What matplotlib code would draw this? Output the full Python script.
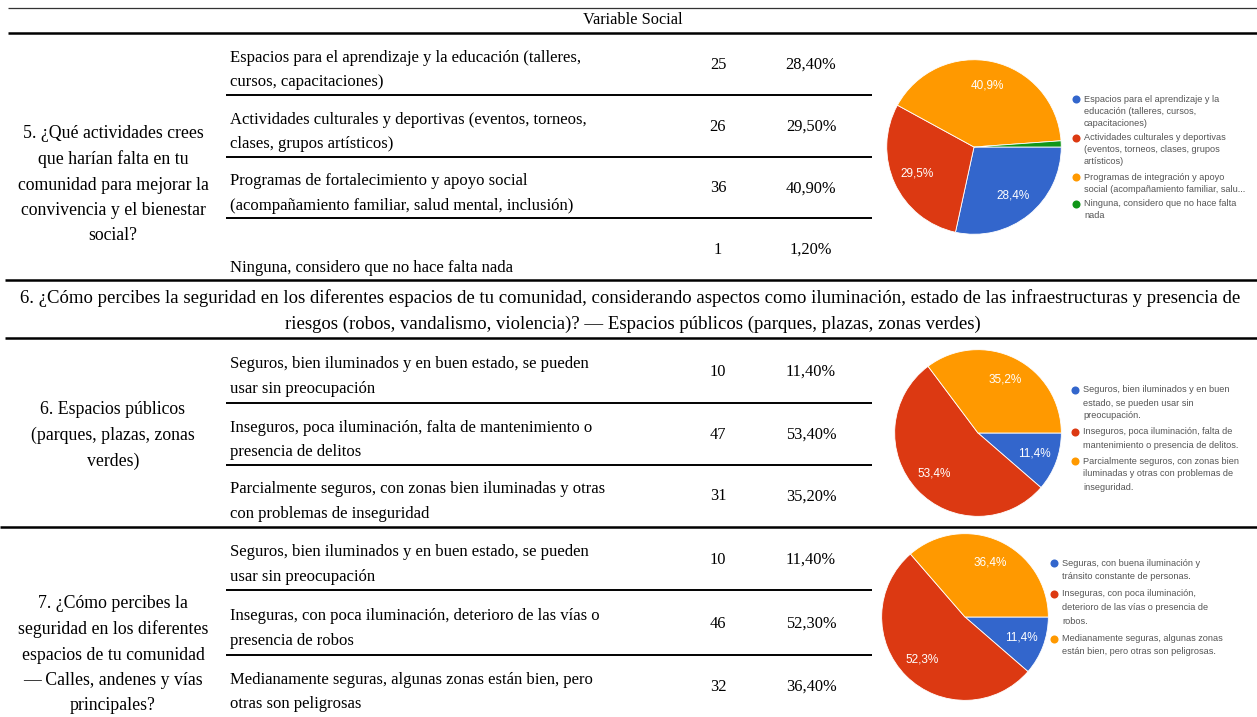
#Recreates the "Variable Social" survey table with embedded pie charts
import matplotlib.pyplot as plt

#Data
header = "Variable Social"
section_title = ["6. ¿Cómo percibes la seguridad en los diferentes espacios de tu comunidad, considerando aspectos como iluminación, estado de las infraestructuras y presencia de",
                 "riesgos (robos, vandalismo, violencia)? — Espacios públicos (parques, plazas, zonas verdes)"]

q5_question = ["5. ¿Qué actividades crees", "que harían falta en tu", "comunidad para mejorar la",
               "convivencia y el bienestar", "social?"]
q5_options = [["Espacios para el aprendizaje y la educación (talleres,", "cursos, capacitaciones)"],
              ["Actividades culturales y deportivas (eventos, torneos,", "clases, grupos artísticos)"],
              ["Programas de fortalecimiento y apoyo social", "(acompañamiento familiar, salud mental, inclusión)"],
              ["Ninguna, considero que no hace falta nada"]]
q5_counts = [25, 26, 36, 1]
q5_pct = ["28,40%", "29,50%", "40,90%", "1,20%"]
q5_legend = ["Espacios para el aprendizaje y la\neducación (talleres, cursos,\ncapacitaciones)",
             "Actividades culturales y deportivas\n(eventos, torneos, clases, grupos\nartísticos)",
             "Programas de integración y apoyo\nsocial (acompañamiento familiar, salu...",
             "Ninguna, considero que no hace falta\nnada"]

q6_question = ["6. Espacios públicos", "(parques, plazas, zonas", "verdes)"]
q6_options = [["Seguros, bien iluminados y en buen estado, se pueden", "usar sin preocupación"],
              ["Inseguros, poca iluminación, falta de mantenimiento o", "presencia de delitos"],
              ["Parcialmente seguros, con zonas bien iluminadas y otras", "con problemas de inseguridad"]]
q6_counts = [10, 47, 31]
q6_pct = ["11,40%", "53,40%", "35,20%"]
q6_legend = ["Seguros, bien iluminados y en buen\nestado, se pueden usar sin\npreocupación.",
             "Inseguros, poca iluminación, falta de\nmantenimiento o presencia de delitos.",
             "Parcialmente seguros, con zonas bien\niluminadas y otras con problemas de\ninseguridad."]

q7_question = ["7. ¿Cómo percibes la", "seguridad en los diferentes", "espacios de tu comunidad",
               "— Calles, andenes y vías", "principales?"]
q7_options = [["Seguros, bien iluminados y en buen estado, se pueden", "usar sin preocupación"],
              ["Inseguras, con poca iluminación, deterioro de las vías o", "presencia de robos"],
              ["Medianamente seguras, algunas zonas están bien, pero", "otras son peligrosas"]]
q7_counts = [10, 46, 32]
q7_pct = ["11,40%", "52,30%", "36,40%"]
q7_legend = ["Seguras, con buena iluminación y\ntránsito constante de personas.",
             "Inseguras, con poca iluminación,\ndeterioro de las vías o presencia de\nrobos.",
             "Medianamente seguras, algunas zonas\nestán bien, pero otras son peligrosas."]

#Config
W, H = 1257, 717
SERIF = "Liberation Serif"
FS = 12.0
FS_Q = 12.8
FS_NUM = 11.8
PIE_COLORS = ["#3366cc", "#dc3912", "#ff9900", "#109618"]
LINE_H = 25.5

fig = plt.figure(figsize=(W / 100, H / 100), dpi=100)
ax = fig.add_axes([0, 0, 1, 1])
ax.set_xlim(0, W)
ax.set_ylim(H, 0)
ax.axis("off")


def txt(x, y, s, ha="left", fs=FS, **kw):
    return ax.text(x, y, s, ha=ha, va="center", family=SERIF, fontsize=fs, color="black", **kw)


def rule(y, x0, x1, lw=1.5, color="black"):
    ax.plot([x0, x1], [y, y], color=color, lw=lw, solid_capstyle="butt")


#Helper to draw one question block
def block(question, q_top, options, counts, pcts, row_edges, last_bottom=False):
    for i, line in enumerate(question):
        txt(113, q_top + i * LINE_H, line, ha="center", fs=FS_Q)
    for i, opt in enumerate(options):
        top, bot = row_edges[i], row_edges[i + 1]
        mid = (top + bot) / 2
        if last_bottom and i == len(options) - 1:
            txt(230, bot - 12, opt[0])
        else:
            for j, line in enumerate(opt):
                txt(230, mid - 6.5 + j * 25, line)
        txt(718, mid + 1, str(counts[i]), ha="center", fs=FS_NUM)
        txt(811, mid + 1, pcts[i], ha="center", fs=FS_NUM)
    for y in row_edges[1:-1]:
        rule(y, 226, 872, lw=1.4)


#Helper to draw a pie with manual legend
def pie(values, cx, cy, r, legend, lx, ly, lh, gap):
    pa = fig.add_axes([(cx - r) / W, 1 - (cy + r) / H, 2 * r / W, 2 * r / H])
    total = sum(values)
    pcts = [v / total * 100 for v in values]
    labels = [f"{p:.1f}%".replace(".", ",") if p > 5 else "" for p in pcts]
    wedges, texts = pa.pie(values, colors=PIE_COLORS[:len(values)], startangle=0, counterclock=False,
                           labels=labels, labeldistance=0.72, radius=1,
                           wedgeprops=dict(edgecolor="white", linewidth=0.6),
                           textprops=dict(color="white", fontsize=8.5, family="Liberation Sans"))
    for t in texts:
        t.set_ha("center")
        t.set_va("center")
    pa.set_xlim(-1.02, 1.02)
    pa.set_ylim(-1.02, 1.02)
    pa.set_aspect("equal")
    pa.axis("off")
    y = ly
    for i, lab in enumerate(legend):
        ax.plot(lx, y, "o", ms=5.8, color=PIE_COLORS[i], mec="none")
        for j, line in enumerate(lab.split("\n")):
            ax.text(lx + 8, y + j * lh, line, ha="left", va="center", fontsize=6.6,
                    color="#555555", family="Liberation Sans")
        y += (lab.count("\n") + 1) * lh + gap


#Header
rule(8, 8, W, lw=0.9, color="#333333")
txt(633, 20, header, ha="center", fs=FS_NUM)
rule(33, 8, W, lw=1.8)

#Question 5
block(q5_question, 134, q5_options, q5_counts, q5_pct, [33, 95, 157, 218, 280], last_bottom=True)
pie(q5_counts, 974, 147, 89, q5_legend, 1076, 99, 12, 3)
rule(280, 5, W, lw=1.8)

#Section title for question 6
txt(630, 298, section_title[0], ha="center", fs=13.5)
txt(633, 324, section_title[1], ha="center", fs=13.5)
rule(338, 5, W, lw=1.8)

#Question 6
block(q6_question, 410, q6_options, q6_counts, q6_pct, [338, 403, 465, 526])
pie(q6_counts, 978, 433, 85, q6_legend, 1075, 390, 13, 3)
rule(527, 0, W, lw=1.8)

#Question 7
block(q7_question, 604, q7_options, q7_counts, q7_pct, [527, 590, 655, 717])
pie(q7_counts, 965, 617, 85, q7_legend, 1054, 563, 13.5, 4)

fig.savefig("out.png", dpi=100)
